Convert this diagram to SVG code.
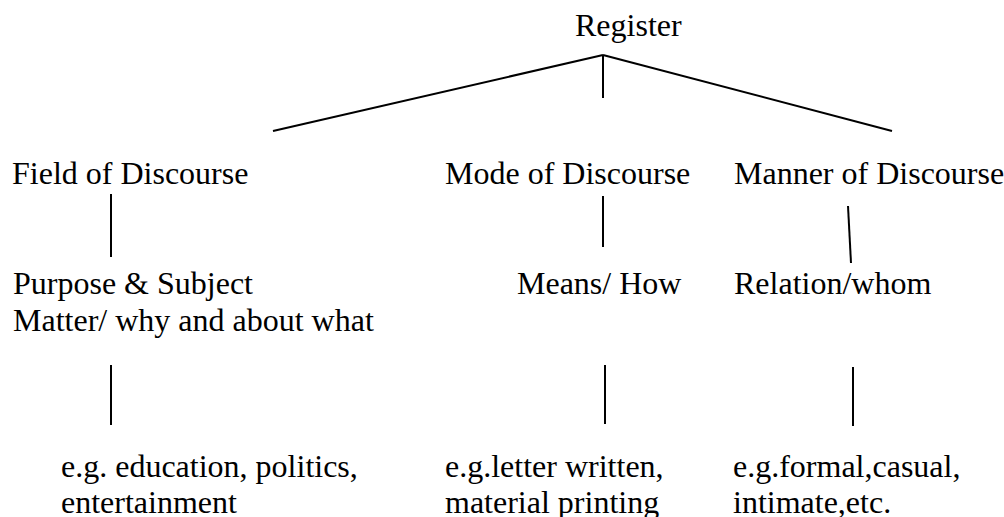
<svg xmlns="http://www.w3.org/2000/svg" width="1004" height="517" viewBox="0 0 1004 517">
<style>
text{font-family:"Liberation Serif","Times New Roman","DejaVu Serif",serif;font-size:32px;fill:#000}
line{stroke:#000;stroke-width:2;stroke-linecap:butt}
</style>
<rect width="1004" height="517" fill="#fff"/>
<g id="connectors">
<line x1="603" y1="55" x2="273" y2="131"/>
<line x1="603" y1="55" x2="892" y2="131"/>
<line x1="603" y1="55" x2="603" y2="98"/>
<line x1="111" y1="194" x2="111" y2="257"/>
<line x1="603" y1="196" x2="603" y2="247"/>
<line x1="848" y1="206" x2="851" y2="263"/>
<line x1="111" y1="365" x2="111" y2="425"/>
<line x1="605" y1="365" x2="605" y2="424"/>
<line x1="853" y1="367" x2="853" y2="426"/>
</g>
<g id="register"><text x="575" y="36" font-family="Liberation Serif, serif">Register</text></g>
<g id="field"><text x="12" y="184" font-family="Liberation Serif, serif">Field of Discourse</text></g>
<g id="mode"><text x="445" y="184" font-family="Liberation Serif, serif">Mode of Discourse</text></g>
<g id="manner"><text x="734" y="184" font-family="Liberation Serif, serif">Manner of Discourse</text></g>
<g id="purpose"><text x="13" y="294" font-family="Liberation Serif, serif">Purpose &amp; Subject</text><text x="13" y="331" font-family="Liberation Serif, serif">Matter/ why and about what</text></g>
<g id="means"><text x="517" y="294" font-family="Liberation Serif, serif">Means/ How</text></g>
<g id="relation"><text x="734" y="294" font-family="Liberation Serif, serif">Relation/whom</text></g>
<g id="field-eg"><text x="61" y="477" font-family="Liberation Serif, serif">e.g. education, politics,</text><text x="61" y="513" font-family="Liberation Serif, serif">entertainment</text></g>
<g id="mode-eg"><text x="445" y="477" font-family="Liberation Serif, serif">e.g.letter written,</text><text x="445" y="513" font-family="Liberation Serif, serif">material printing</text></g>
<g id="manner-eg"><text x="733" y="477" font-family="Liberation Serif, serif">e.g.formal,casual,</text><text x="733" y="513" font-family="Liberation Serif, serif">intimate,etc.</text></g>
</svg>
